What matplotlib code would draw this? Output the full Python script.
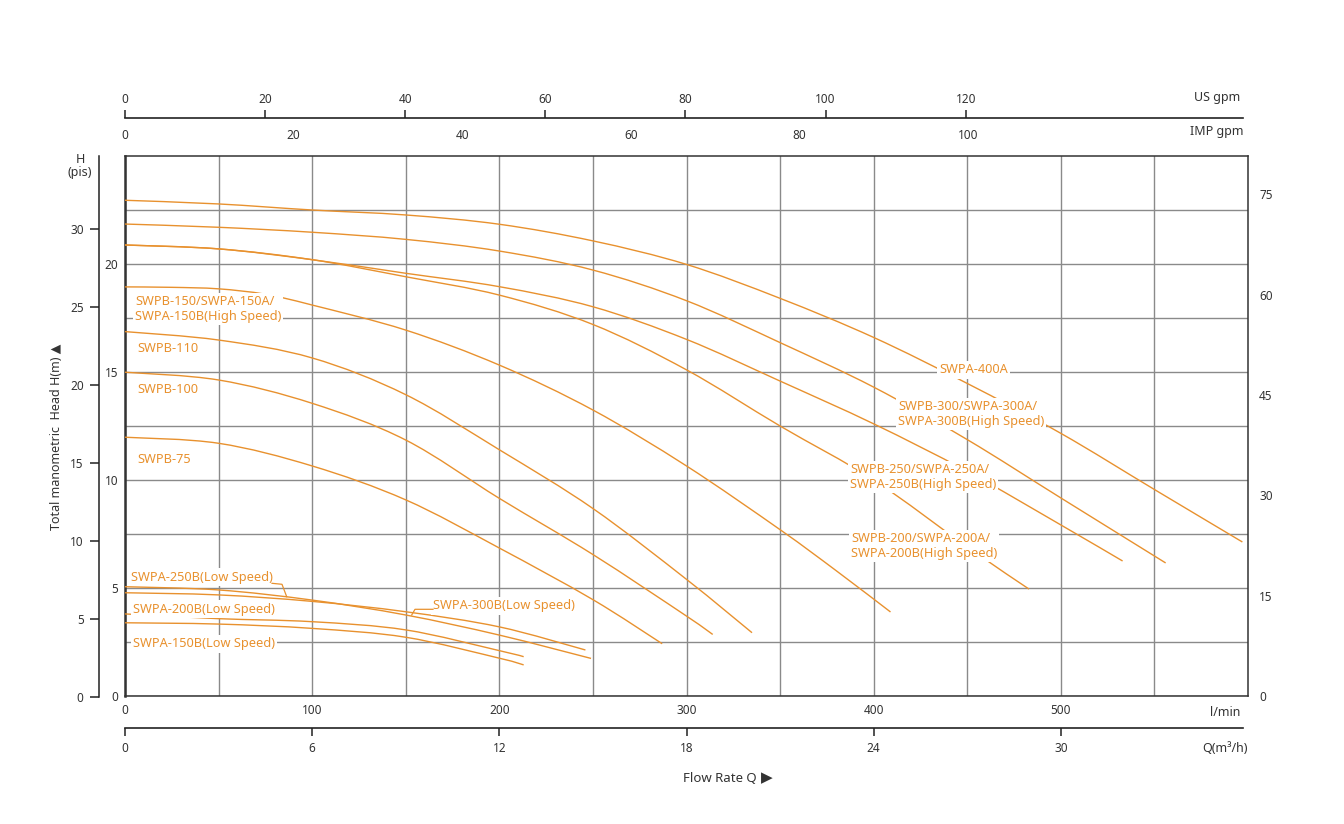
import numpy as np
import matplotlib
matplotlib.use('Agg')
import matplotlib.pyplot as plt
from matplotlib.path import Path
from matplotlib.patches import PathPatch

# ---------------- data: flow (l/min) vs head (m) ----------------
q_400a = [0, 50, 100, 150, 200, 250, 300, 350, 400, 450, 500, 550, 597]
h_400a = [22.95, 22.78, 22.5, 22.27, 21.84, 21.07, 19.98, 18.41, 16.6, 14.47, 12.16, 9.56, 7.13]

q_300h = [0, 50, 100, 150, 200, 250, 300, 350, 400, 450, 500, 556]
h_300h = [21.85, 21.7, 21.47, 21.14, 20.6, 19.72, 18.3, 16.36, 14.3, 11.87, 9.17, 6.16]

q_250h = [0, 50, 100, 150, 200, 250, 300, 350, 400, 450, 500, 533]
h_250h = [20.88, 20.7, 20.2, 19.57, 18.95, 18.02, 16.51, 14.58, 12.6, 10.4, 7.92, 6.25]

q_200h = [0, 50, 100, 150, 200, 250, 300, 350, 400, 450, 483]
h_200h = [20.88, 20.7, 20.2, 19.41, 18.56, 17.2, 15.1, 12.5, 10.0, 6.9, 4.95]

q_150h = [0, 25, 50, 75, 100, 150, 200, 250, 300, 350, 380, 409]
h_150h = [18.94, 18.92, 18.85, 18.6, 18.1, 16.94, 15.32, 13.24, 10.65, 7.7, 5.8, 3.89]

q_110 = [0, 50, 100, 150, 200, 250, 300, 335]
h_110 = [16.87, 16.48, 15.65, 13.95, 11.4, 8.68, 5.4, 2.93]

q_100 = [0, 50, 100, 150, 200, 250, 300, 314]
h_100 = [14.99, 14.63, 13.55, 11.85, 9.15, 6.55, 3.7, 2.85]

q_75 = [0, 50, 100, 150, 200, 250, 287]
h_75 = [11.98, 11.7, 10.65, 9.08, 6.85, 4.46, 2.42]

q_low1 = [0, 50, 100, 150, 200, 249]
h_low1 = [5.06, 4.91, 4.44, 3.75, 2.82, 1.74]

q_low2 = [0, 50, 100, 150, 200, 246]
h_low2 = [4.78, 4.68, 4.38, 3.9, 3.2, 2.13]

q_low200 = [0, 50, 100, 150, 200, 213]
h_low200 = [3.8, 3.58, 3.44, 3.06, 2.1, 1.82]

q_low150 = [0, 50, 100, 150, 200, 213]
h_low150 = [3.39, 3.33, 3.13, 2.72, 1.75, 1.44]

curves = [(q_400a, h_400a), (q_300h, h_300h), (q_250h, h_250h), (q_200h, h_200h),
          (q_150h, h_150h), (q_110, h_110), (q_100, h_100), (q_75, h_75),
          (q_low1, h_low1), (q_low2, h_low2), (q_low200, h_low200), (q_low150, h_low150)]

lmin_ticks = [0, 100, 200, 300, 400, 500]
m_ticks = [0, 5, 10, 15, 20]
ft_ticks = [0, 15, 30, 45, 60, 75]
psi_ticks = [0, 5, 10, 15, 20, 25, 30]
usgpm_ticks = [0, 20, 40, 60, 80, 100, 120]
impgpm_ticks = [0, 20, 40, 60, 80, 100]
m3h_ticks = [0, 6, 12, 18, 24, 30]

# ---------------- styling ----------------
plt.rcParams['font.family'] = ['Noto Sans', 'DejaVu Sans']
ORANGE = '#E8912E'
TXT = '#333333'
GRID = '#8a8a8a'
W, HP = 1344, 824
L, R, T, B = 125, 1248, 156, 696


def fx(x):
    return x / W


def fy(y):
    return 1 - y / HP


def smooth_path(q, h):
    """Smooth (Catmull-Rom style) Bezier path through the read points."""
    pts = np.column_stack([q, h]).astype(float)
    n = len(pts)
    verts = [pts[0]]
    codes = [Path.MOVETO]
    for i in range(n - 1):
        p0 = pts[i - 1] if i > 0 else pts[i]
        p1 = pts[i]
        p2 = pts[i + 1]
        p3 = pts[i + 2] if i + 2 < n else pts[i + 1]
        c1 = p1 + (p2 - p0) / 6.0
        c2 = p2 - (p3 - p1) / 6.0
        verts += [c1, c2, p2]
        codes += [Path.CURVE4] * 3
    return Path(verts, codes)


fig = plt.figure(figsize=(W / 100, HP / 100), dpi=100)
fig.patch.set_facecolor('white')

ax = fig.add_axes([fx(L), fy(B), (R - L) / W, (B - T) / HP])
ax.set_xlim(0, 600)
ax.set_ylim(0, 25)
ax.set_xticks(lmin_ticks)
ax.set_xticks(np.arange(50, 600, 50), minor=True)
ax.set_yticks(m_ticks)
ax.set_yticks(np.arange(2.5, 25, 2.5), minor=True)
ax.grid(which='both', color=GRID, lw=1.0, zorder=1)
ax.set_axisbelow(True)
ax.tick_params(axis='both', which='both', length=0, labelsize=8.5, labelcolor=TXT)
ax.tick_params(axis='x', pad=6)
ax.tick_params(axis='y', pad=5)
for s in ax.spines.values():
    s.set_color('#333333')
    s.set_linewidth(1.1)
ax.spines['left'].set_linewidth(1.8)


def p2d(x, y):
    return ((x - L) / (R - L) * 600, (B - y) / (B - T) * 25)


for q, h in curves:
    ax.add_patch(PathPatch(smooth_path(q, h), facecolor='none', edgecolor=ORANGE,
                           lw=1.0, zorder=3))

# curve labels (pixel position of left edge / vertical center)
labels = [
    ('SWPB-150/SWPA-150A/\nSWPA-150B(High Speed)', 135, 309),
    ('SWPB-110', 137, 349),
    ('SWPB-100', 137, 390),
    ('SWPB-75', 137, 460),
    ('SWPA-250B(Low Speed)', 131, 577),
    ('SWPA-200B(Low Speed)', 133, 609),
    ('SWPA-150B(Low Speed)', 133, 644),
    ('SWPA-300B(Low Speed)', 433, 606),
    ('SWPA-400A', 939, 370),
    ('SWPB-300/SWPA-300A/\nSWPA-300B(High Speed)', 898, 414),
    ('SWPB-250/SWPA-250A/\nSWPA-250B(High Speed)', 850, 477),
    ('SWPB-200/SWPA-200A/\nSWPA-200B(High Speed)', 851, 546),
]
for txt, x, y in labels:
    dx, dy = p2d(x, y)
    ax.text(dx, dy, txt, color=ORANGE, fontsize=9.2, ha='left', va='center',
            linespacing=1.15, zorder=5,
            bbox=dict(facecolor='white', edgecolor='none', pad=1.5))

# leader lines
for pts in ([(272, 583.3), (282, 584.3), (286.7, 596.7)],
            [(433, 609.3), (415, 609.3), (411.7, 615)]):
    xs, ys = zip(*[p2d(*p) for p in pts])
    ax.plot(xs, ys, color=ORANGE, lw=0.9, zorder=6)

# right axis (feet)
axr = ax.twinx()
axr.set_ylim(0, 80.7)
axr.set_yticks(ft_ticks)
axr.tick_params(axis='y', length=0, labelsize=8.5, labelcolor=TXT, pad=8)
for s in axr.spines.values():
    s.set_visible(False)

# outer left axis (pis)
axp = fig.add_axes([fx(99), fy(B + 1), 0.001, (B + 1 - T) / HP])
axp.set_ylim(0, 34.68)
axp.set_yticks(psi_ticks)
axp.set_xticks([])
axp.patch.set_visible(False)
for k in ('right', 'top', 'bottom'):
    axp.spines[k].set_visible(False)
axp.spines['left'].set_color('#222222')
axp.spines['left'].set_linewidth(1.1)
axp.tick_params(axis='y', direction='out', length=6.5, width=1.1, color='#222222',
                labelsize=8.5, labelcolor=TXT, pad=4.5)

# top axis: US gpm
axu = fig.add_axes([fx(L), fy(118.5), (R - L) / W, 0.0001])
axu.set_xlim(0, 160.3)
axu.set_xticks(usgpm_ticks)
axu.set_yticks([])
axu.patch.set_visible(False)
for k in ('left', 'right', 'bottom'):
    axu.spines[k].set_visible(False)
axu.spines['top'].set_color('#222222')
axu.spines['top'].set_linewidth(1.2)
axu.spines['top'].set_bounds(0, (1243 - L) / (R - L) * 160.3)
axu.xaxis.set_ticks_position('top')
axu.tick_params(axis='x', direction='out', length=5.8, width=1.1, color='#222222',
                labelsize=8.5, labelcolor=TXT, pad=3)

# IMP gpm labels
axi = fig.add_axes([fx(L), fy(119), (R - L) / W, 0.0001])
axi.set_xlim(0, 133.2)
axi.set_xticks(impgpm_ticks)
axi.set_yticks([])
axi.patch.set_visible(False)
for s in axi.spines.values():
    s.set_visible(False)
axi.tick_params(axis='x', length=0, labelsize=8.5, labelcolor=TXT, pad=7)

# bottom axis: m3/h
axm = fig.add_axes([fx(L), fy(727.5), (R - L) / W, 0.0001])
axm.set_xlim(0, 36)
axm.set_xticks(m3h_ticks)
axm.set_yticks([])
axm.patch.set_visible(False)
for k in ('left', 'right', 'top'):
    axm.spines[k].set_visible(False)
axm.spines['bottom'].set_color('#222222')
axm.spines['bottom'].set_linewidth(1.2)
axm.spines['bottom'].set_bounds(0, (1243 - L) / (R - L) * 36)
axm.tick_params(axis='x', direction='out', length=5.8, width=1.1, color='#222222',
                labelsize=8.5, labelcolor=TXT, pad=5)

# unit / axis texts
fig.text(fx(1240), fy(97), 'US gpm', ha='right', va='center', fontsize=9, color=TXT)
fig.text(fx(1243), fy(131), 'IMP gpm', ha='right', va='center', fontsize=9, color=TXT)
fig.text(fx(1240), fy(712), 'l/min', ha='right', va='center', fontsize=9, color=TXT)
fig.text(fx(1248), fy(748), 'Q(m³/h)', ha='right', va='center', fontsize=9, color=TXT)
fig.text(fx(683), fy(778), 'Flow Rate Q', ha='left', va='center', fontsize=9.5,
         color=TXT, fontweight='medium')
fig.text(fx(761), fy(778), '▶', ha='left', va='center', fontsize=11, color=TXT,
         family=['DejaVu Sans'])
fig.text(fx(80), fy(166), 'H\n(pis)', ha='center', va='center', fontsize=9, color=TXT,
         linespacing=1.05)
fig.text(fx(57), fy(437), 'Total manometric  Head H(m) ▲', rotation=90, ha='center',
         va='center', fontsize=9, color=TXT)

fig.savefig('out.png', dpi=100, facecolor='white')
